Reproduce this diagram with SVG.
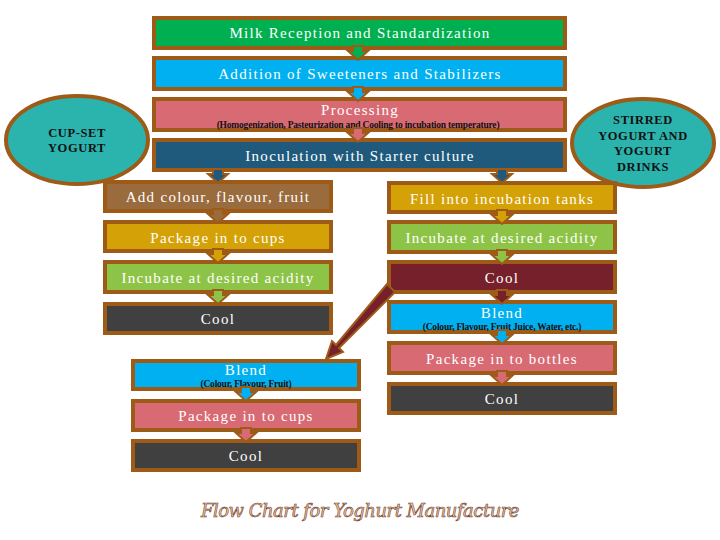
<svg xmlns="http://www.w3.org/2000/svg" xmlns:xlink="http://www.w3.org/1999/xlink" width="720" height="540" viewBox="0 0 720 540">
<style>
.box{stroke:#9E5A17;stroke-width:4}
.ell{fill:#2BB3AE;stroke:#9E5A17;stroke-width:4}
.t{font-family:"Liberation Serif","DejaVu Serif",serif;font-size:15px;fill:#FFFFFF;text-anchor:middle;letter-spacing:1.3px}
.s{font-family:"Liberation Serif","DejaVu Serif",serif;font-size:9.5px;font-weight:bold;fill:#111111;text-anchor:middle;letter-spacing:-0.2px}
.e{font-family:"Liberation Serif","DejaVu Serif",serif;font-size:12.5px;font-weight:bold;fill:#111111;text-anchor:middle;letter-spacing:0.6px}
.arr{stroke:#9E5A17;stroke-width:2;stroke-linejoin:miter}
.title{font-family:"DejaVu Serif","Liberation Serif",serif;font-style:italic;font-size:18px;fill:#F6CBA6;stroke:#6B3A2A;stroke-width:0.6;text-anchor:middle;letter-spacing:-0.5px}
</style>
<defs>
<path id="a" d="M-5,0 H5 V5 H10 L0,14 L-10,5 H-5 Z"/>
</defs>
<rect width="720" height="540" fill="#FFFFFF"/>

<g id="cupset">
<ellipse class="ell" cx="77" cy="140" rx="71" ry="44"/>
<text class="e" x="77" y="137">CUP-SET</text>
<text class="e" x="77" y="152">YOGURT</text>
</g>
<g id="stirred">
<ellipse class="ell" cx="643" cy="143" rx="71" ry="44"/>
<text class="e" x="643" y="124">STIRRED</text>
<text class="e" x="643" y="140">YOGURT AND</text>
<text class="e" x="643" y="155">YOGURT</text>
<text class="e" x="643" y="171">DRINKS</text>
</g>

<g id="milk"><rect class="box" x="154" y="18" width="411" height="30" fill="#00B050"/><text class="t" x="360" y="38">Milk Reception and Standardization</text></g>
<g id="sweet"><rect class="box" x="154" y="58" width="411" height="31" fill="#00B0F0"/><text class="t" x="360" y="79">Addition of Sweeteners and Stabilizers</text></g>
<g id="proc"><rect class="box" x="154" y="99" width="411" height="31" fill="#D86A74"/><text class="t" x="360" y="115">Processing</text><text class="s" x="358" y="128">(Homogenization, Pasteurization and Cooling to incubation temperature)</text></g>
<g id="inoc"><rect class="box" x="154" y="140" width="411" height="30" fill="#1F5A7C"/><text class="t" x="360" y="161">Inoculation with Starter culture</text></g>

<g id="addcol"><rect class="box" x="105" y="182" width="226" height="29" fill="#9A6B3C"/><text class="t" x="218" y="202">Add colour, flavour, fruit</text></g>
<g id="pkgcups1"><rect class="box" x="105" y="222" width="226" height="29" fill="#D4A106"/><text class="t" x="218" y="243">Package in to cups</text></g>
<g id="incub1"><rect class="box" x="105" y="262" width="226" height="30" fill="#8DC448"/><text class="t" x="218" y="283">Incubate at desired acidity</text></g>
<g id="cool1"><rect class="box" x="105" y="304" width="226" height="29" fill="#404040"/><text class="t" x="218" y="324">Cool</text></g>

<g id="fill"><rect class="box" x="389" y="183" width="226" height="29" fill="#D4A106"/><text class="t" x="502" y="204">Fill into incubation tanks</text></g>
<g id="incub2"><rect class="box" x="389" y="222" width="226" height="30" fill="#8DC448"/><text class="t" x="502" y="243">Incubate at desired acidity</text></g>
<g id="cool2"><rect class="box" x="389" y="262" width="226" height="30" fill="#76202B"/><text class="t" x="502" y="283">Cool</text></g>
<g id="blend2"><rect class="box" x="389" y="302" width="226" height="30" fill="#00B0F0"/><text class="t" x="502" y="318">Blend</text><text class="s" x="502" y="330">(Colour, Flavour, Fruit Juice, Water, etc.)</text></g>
<g id="pkgbottles"><rect class="box" x="389" y="343" width="226" height="30" fill="#D86A74"/><text class="t" x="502" y="364">Package in to bottles</text></g>
<g id="cool3"><rect class="box" x="389" y="384" width="226" height="29" fill="#404040"/><text class="t" x="502" y="404">Cool</text></g>

<g id="blend1"><rect class="box" x="133" y="361" width="226" height="28" fill="#00B0F0"/><text class="t" x="246" y="375">Blend</text><text class="s" x="246" y="387">(Colour, Flavour, Fruit)</text></g>
<g id="pkgcups2"><rect class="box" x="133" y="401" width="226" height="29" fill="#D86A74"/><text class="t" x="246" y="421">Package in to cups</text></g>
<g id="cool4"><rect class="box" x="133" y="441" width="226" height="29" fill="#404040"/><text class="t" x="246" y="461">Cool</text></g>

<g id="connectors">
<use href="#a" class="arr" x="358" y="46" fill="#00B050"/>
<use href="#a" class="arr" x="358" y="87" fill="#00B0F0"/>
<use href="#a" class="arr" x="358" y="128" fill="#D86A74"/>
<use href="#a" class="arr" x="218" y="169" fill="#1F5A7C"/>
<use href="#a" class="arr" x="502" y="169" fill="#1F5A7C"/>
<use href="#a" class="arr" x="218" y="209" fill="#9A6B3C"/>
<use href="#a" class="arr" x="218" y="249" fill="#D4A106"/>
<use href="#a" class="arr" x="218" y="290" fill="#8DC448"/>
<use href="#a" class="arr" x="502" y="210" fill="#D4A106"/>
<use href="#a" class="arr" x="502" y="250" fill="#8DC448"/>
<use href="#a" class="arr" x="502" y="290" fill="#76202B"/>
<use href="#a" class="arr" x="502" y="330" fill="#00B0F0"/>
<use href="#a" class="arr" x="502" y="371" fill="#D86A74"/>
<use href="#a" class="arr" x="246" y="387" fill="#00B0F0"/>
<use href="#a" class="arr" x="246" y="428" fill="#D86A74"/>
<path class="arr" fill="#76202B" d="M387,284 L395,292 L339,348 L343,352 L326,359 L332,341 L336,345 Z"/>
</g>

<text class="title" x="360" y="517">Flow Chart for Yoghurt Manufacture</text>
</svg>
